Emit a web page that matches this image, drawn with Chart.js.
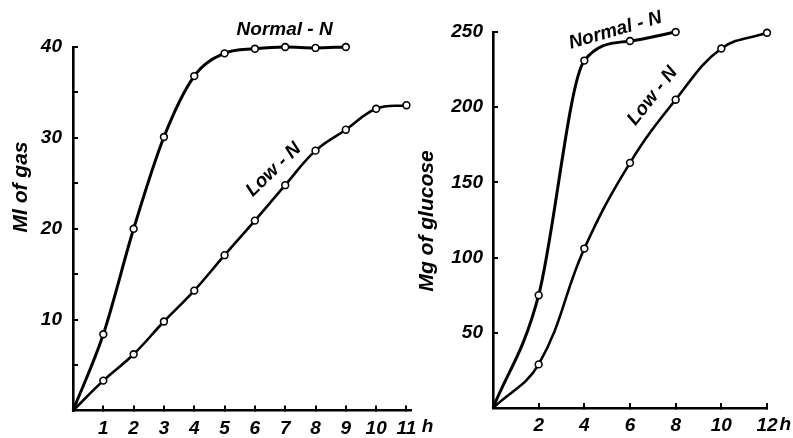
<!DOCTYPE html>
<html>
<head>
<meta charset="utf-8">
<script src="https://cdn.jsdelivr.net/npm/chart.js@4.4.1/dist/chart.umd.min.js"></script>
<style>
  html, body { margin: 0; padding: 0; background: #fff; }
  #wrap { position: relative; width: 793px; height: 438px; overflow: hidden; }
  .box { position: absolute; top: 0; height: 438px; }
  #left { left: 0; width: 445px; }
  #right { left: 400px; width: 393px; }
</style>
</head>
<body>
<div id="wrap">
  <div class="box" id="left"><canvas id="gasChart"></canvas></div>
  <div class="box" id="right"><canvas id="glucoseChart"></canvas></div>
</div>
<script>
// left panel: ml of gas against hours
const gasNormalHours = [0, 1, 2, 3, 4, 5, 6, 7, 8, 9];
const gasNormal = [0, 8.4, 20, 30.1, 36.8, 39.3, 39.8, 40, 39.9, 40];
const gasLowHours = [0, 1, 2, 3, 4, 5, 6, 7, 8, 9, 10, 11];
const gasLow = [0, 3.3, 6.2, 9.8, 13.2, 17.1, 20.9, 24.8, 28.6, 30.9, 33.2, 33.6];
const gasTicksX = [1, 2, 3, 4, 5, 6, 7, 8, 9, 10, 11];
const gasTicksY = [5, 10, 15, 20, 25, 30, 35, 40];

// right panel: mg of glucose against hours
const glucoseNormalHours = [0, 2, 4, 6, 8];
const glucoseNormal = [0, 75, 231, 244, 250];
const glucoseLowHours = [0, 2, 4, 6, 8, 10, 12];
const glucoseLow = [0, 29, 106, 163, 205, 239, 249.5];
const glucoseTicksX = [2, 4, 6, 8, 10, 12];
const glucoseTicksY = [50, 100, 150, 200, 250];

const labelFont = { family: '"Liberation Sans", Arial, sans-serif', size: 19, style: 'italic', weight: 'bold' };
const noteFont = 'italic bold 19px "Liberation Sans", Arial, sans-serif';
const titleFont = 'italic bold 21px "Liberation Sans", Arial, sans-serif';

// free text: curve names, axis titles and the "h" unit
const notesPlugin = {
    id: 'notes',
    afterDraw(chart, args, opts) {
        const ctx = chart.ctx;
        const xs = chart.scales.x;
        const ys = chart.scales.y;
        (opts.items || []).forEach(n => {
            const px = n.px !== undefined ? n.px : xs.getPixelForValue(n.x);
            const py = n.py !== undefined ? n.py : ys.getPixelForValue(n.y);
            ctx.save();
            ctx.translate(px, py);
            ctx.rotate((n.angle || 0) * Math.PI / 180);
            ctx.font = n.font || noteFont;
            ctx.fillStyle = '#000';
            ctx.textAlign = 'center';
            ctx.textBaseline = 'middle';
            ctx.fillText(n.text, 0, 0);
            ctx.restore();
        });
    }
};

function curve(label, hours, values, width, smooth) {
    const ds = {
        label: label,
        data: hours.map((h, i) => ({ x: h, y: values[i] })),
        borderColor: '#000',
        borderWidth: width,
        pointBackgroundColor: '#fff',
        pointBorderColor: '#000',
        pointBorderWidth: 1.6,
        pointRadius: hours.map(h => h === 0 ? 0 : 3.4),
        fill: false,
        clip: false
    };
    if (smooth === 'monotone') ds.cubicInterpolationMode = 'monotone';
    else ds.tension = 0.4;
    return ds;
}

function axis(min, max, tickList, fitSize, padding, labelCb) {
    return {
        type: 'linear',
        min: min,
        max: max,
        border: { color: '#000', width: 2.6 },
        grid: { drawOnChartArea: false, drawTicks: true, tickLength: -5, color: '#000', lineWidth: 2 },
        ticks: {
            color: '#000',
            font: labelFont,
            padding: padding,
            autoSkip: false,
            maxRotation: 0,
            callback: labelCb || (v => v)
        },
        afterBuildTicks: s => { s.ticks = tickList.map(v => ({ value: v })); },
        afterFit: s => {
            if (s.isHorizontal()) s.height = fitSize;
            else s.width = fitSize;
        }
    };
}

function makeChart(id, datasets, scales, padding, notes) {
    return new Chart(document.getElementById(id), {
        type: 'line',
        data: { datasets: datasets },
        options: {
            responsive: true,
            maintainAspectRatio: false,
            animation: false,
            layout: { padding: padding },
            scales: scales,
            plugins: {
                legend: { display: false },
                tooltip: { enabled: false },
                notes: { items: notes }
            }
        },
        plugins: [notesPlugin]
    });
}

makeChart('gasChart',
    [curve('Normal-N', gasNormalHours, gasNormal, 3, 'monotone'), curve('Low-N', gasLowHours, gasLow, 2.6)],
    {
        x: axis(0, 11.15, gasTicksX, 27, 12),
        y: axis(0, 40, gasTicksY, 73, 16, v => v % 10 === 0 ? v : '')
    },
    { top: 47, right: 34, bottom: 0, left: 0 },
    [
        { text: 'Normal - N', x: 6.98, y: 41.9 },
        { text: 'Low - N', x: 6.62, y: 26.5, angle: -44 },
        { text: 'Ml of gas', px: 21, py: 187, angle: -90, font: titleFont },
        { text: 'h', x: 11.7, y: -1.8 }
    ]
);

makeChart('glucoseChart',
    [curve('Normal-N', glucoseNormalHours, glucoseNormal, 3, 'monotone'), curve('Low-N', glucoseLowHours, glucoseLow, 2.6)],
    {
        x: axis(0, 12, glucoseTicksX, 30, 11),
        y: axis(0, 250, glucoseTicksY, 93, 15)
    },
    { top: 32, right: 26, bottom: 0, left: 0 },
    [
        { text: 'Normal - N', x: 5.36, y: 251, angle: -16 },
        { text: 'Low - N', x: 6.99, y: 207.4, angle: -52 },
        { text: 'Mg of glucose', px: 27, py: 221, angle: -90, font: titleFont },
        { text: 'h', x: 12.8, y: -11 }
    ]
);
</script>
</body>
</html>
